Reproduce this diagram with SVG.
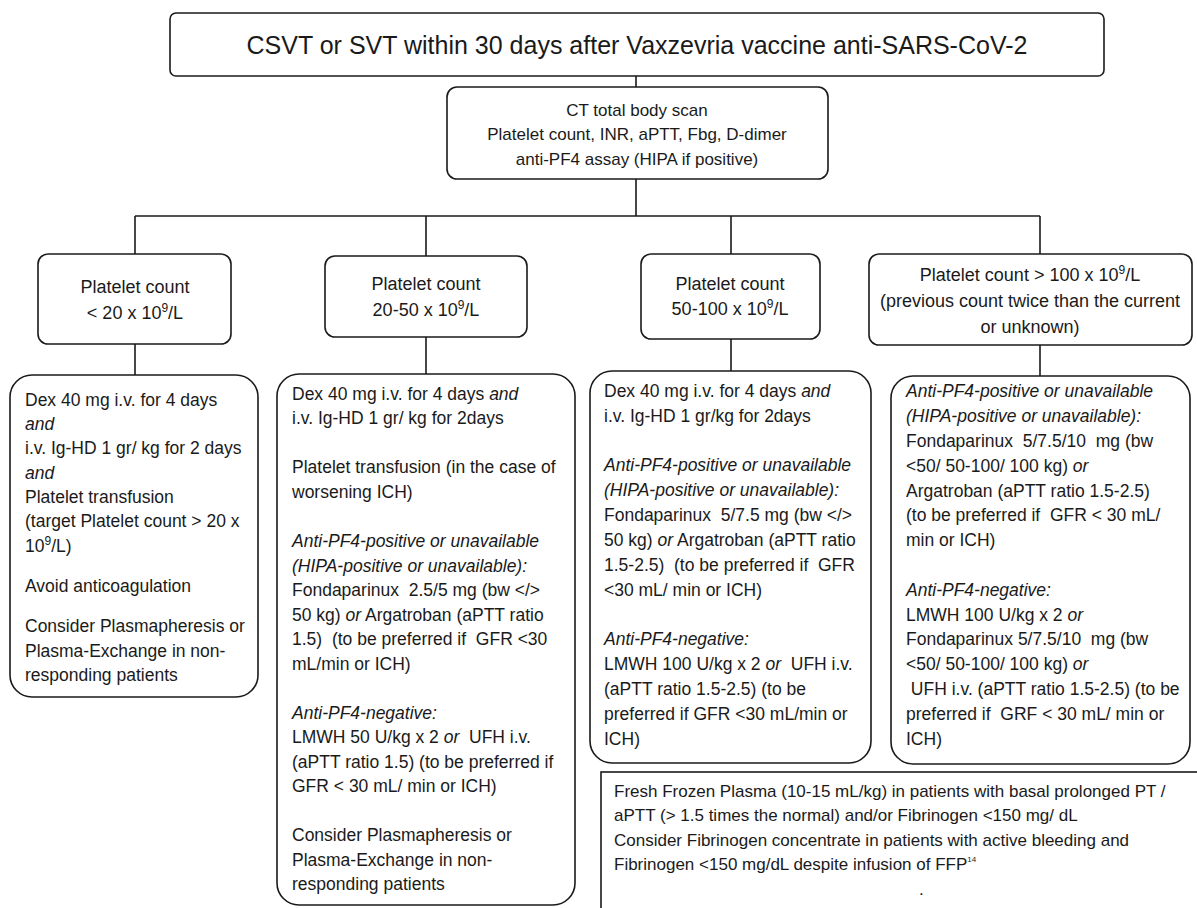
<svg xmlns="http://www.w3.org/2000/svg" width="1197" height="908" viewBox="0 0 1197 908">
<style>
text{font-family:"Liberation Sans",Arial,sans-serif;fill:#1a1a1a}
.box{fill:#fff;stroke:#1a1a1a;stroke-width:1.6}
.c{stroke:#1a1a1a;stroke-width:1.6;fill:none}
.title{font-size:25px}
.ct{font-size:17px}
.pc{font-size:18px}
.t{font-size:17.5px}
.b{font-size:17px}
.i{font-style:italic}
</style>
<rect width="1197" height="908" fill="#fff"/>
<g id="connectors">
<line class="c" x1="636" y1="76" x2="636" y2="87"/>
<line class="c" x1="636" y1="179" x2="636" y2="216"/>
<line class="c" x1="135" y1="216" x2="1040" y2="216"/>
<line class="c" x1="135" y1="216" x2="135" y2="254"/>
<line class="c" x1="426" y1="216" x2="426" y2="256"/>
<line class="c" x1="731" y1="216" x2="731" y2="254"/>
<line class="c" x1="1040" y1="216" x2="1040" y2="254"/>
<line class="c" x1="135" y1="344" x2="135" y2="375"/>
<line class="c" x1="426" y1="337" x2="426" y2="374"/>
<line class="c" x1="731" y1="339" x2="731" y2="371"/>
<line class="c" x1="1040" y1="345" x2="1040" y2="376"/>
</g>
<g id="title">
<rect class="box" x="170" y="13" width="934" height="63" rx="6"/>
<text class="title" x="637" y="54" text-anchor="middle">CSVT or SVT within 30 days after Vaxzevria vaccine anti-SARS-CoV-2</text>
</g>
<g id="ct">
<rect class="box" x="447" y="87" width="381" height="92" rx="10"/>
<text class="ct" x="637" y="116" text-anchor="middle">CT total body scan</text>
<text class="ct" x="637" y="140" text-anchor="middle">Platelet count, INR, aPTT, Fbg, D-dimer</text>
<text class="ct" x="637" y="165" text-anchor="middle">anti-PF4 assay (HIPA if positive)</text>
</g>
<g id="pc1">
<rect class="box" x="38" y="254" width="193" height="90" rx="10"/>
<text class="pc" x="135" y="293" text-anchor="middle">Platelet count</text>
<text class="pc" x="135" y="319" text-anchor="middle">&lt; 20 x 10<tspan dy="-7" font-size="12">9</tspan><tspan dy="7">/L</tspan></text>
</g>
<g id="pc2">
<rect class="box" x="325" y="256" width="202" height="81" rx="10"/>
<text class="pc" x="426" y="290" text-anchor="middle">Platelet count</text>
<text class="pc" x="426" y="316" text-anchor="middle">20-50 x 10<tspan dy="-7" font-size="12">9</tspan><tspan dy="7">/L</tspan></text>
</g>
<g id="pc3">
<rect class="box" x="641" y="254" width="179" height="85" rx="10"/>
<text class="pc" x="730" y="290" text-anchor="middle">Platelet count</text>
<text class="pc" x="730" y="315" text-anchor="middle">50-100 x 10<tspan dy="-7" font-size="12">9</tspan><tspan dy="7">/L</tspan></text>
</g>
<g id="pc4">
<rect class="box" x="869" y="254" width="323" height="91" rx="10"/>
<text class="pc" x="1030" y="281" text-anchor="middle">Platelet count &gt; 100 x 10<tspan dy="-7" font-size="12">9</tspan><tspan dy="7">/L</tspan></text>
<text class="pc" x="1030" y="307" text-anchor="middle">(previous count twice than the current</text>
<text class="pc" x="1030" y="333" text-anchor="middle">or unknown)</text>
</g>
<g id="tr1">
<rect class="box" x="10" y="375" width="248" height="322" rx="22"/>
<text class="t" x="25" y="406">Dex 40 mg i.v. for 4 days</text>
<text class="t i" x="25" y="430">and</text>
<text class="t" x="25" y="454">i.v. Ig-HD 1 gr/ kg for 2 days</text>
<text class="t i" x="25" y="479">and</text>
<text class="t" x="25" y="503">Platelet transfusion</text>
<text class="t" x="25" y="527">(target Platelet count &gt; 20 x</text>
<text class="t" x="25" y="552">10<tspan dy="-7" font-size="12">9</tspan><tspan dy="7">/L)</tspan></text>
<text class="t" x="25" y="592">Avoid anticoagulation</text>
<text class="t" x="25" y="632">Consider Plasmapheresis or</text>
<text class="t" x="25" y="657">Plasma-Exchange in non-</text>
<text class="t" x="25" y="681">responding patients</text>
</g>
<g id="tr2">
<rect class="box" x="277" y="374" width="298" height="531" rx="22"/>
<text class="t" x="292" y="400">Dex 40 mg i.v. for 4 days <tspan class="i">and</tspan></text>
<text class="t" x="292" y="424">i.v. Ig-HD 1 gr/ kg for 2days</text>
<text class="t" x="292" y="473">Platelet transfusion (in the case of</text>
<text class="t" x="292" y="498">worsening ICH)</text>
<text class="t i" x="292" y="547">Anti-PF4-positive or unavailable</text>
<text class="t i" x="292" y="572">(HIPA-positive or unavailable):</text>
<text class="t" x="292" y="596" xml:space="preserve">Fondaparinux  2.5/5 mg (bw &lt;/&gt;</text>
<text class="t" x="292" y="621">50 kg) <tspan class="i">or</tspan> Argatroban (aPTT ratio</text>
<text class="t" x="292" y="645" xml:space="preserve">1.5)  (to be preferred if  GFR &lt;30</text>
<text class="t" x="292" y="670">mL/min or ICH)</text>
<text class="t i" x="292" y="719">Anti-PF4-negative:</text>
<text class="t" x="292" y="743" xml:space="preserve">LMWH 50 U/kg x 2 <tspan class="i">or</tspan>  UFH i.v.</text>
<text class="t" x="292" y="768">(aPTT ratio 1.5) (to be preferred if</text>
<text class="t" x="292" y="792">GFR &lt; 30 mL/ min or ICH)</text>
<text class="t" x="292" y="841">Consider Plasmapheresis or</text>
<text class="t" x="292" y="866">Plasma-Exchange in non-</text>
<text class="t" x="292" y="890">responding patients</text>
</g>
<g id="tr3">
<rect class="box" x="590" y="371" width="281" height="392" rx="22"/>
<text class="t" x="604" y="397">Dex 40 mg i.v. for 4 days <tspan class="i">and</tspan></text>
<text class="t" x="604" y="422">i.v. Ig-HD 1 gr/kg for 2days</text>
<text class="t i" x="604" y="471">Anti-PF4-positive or unavailable</text>
<text class="t i" x="604" y="496">(HIPA-positive or unavailable):</text>
<text class="t" x="604" y="521" xml:space="preserve">Fondaparinux  5/7.5 mg (bw &lt;/&gt;</text>
<text class="t" x="604" y="546">50 kg) <tspan class="i">or</tspan> Argatroban (aPTT ratio</text>
<text class="t" x="604" y="571" xml:space="preserve">1.5-2.5)  (to be preferred if  GFR</text>
<text class="t" x="604" y="596">&lt;30 mL/ min or ICH)</text>
<text class="t i" x="604" y="645">Anti-PF4-negative:</text>
<text class="t" x="604" y="670" xml:space="preserve">LMWH 100 U/kg x 2 <tspan class="i">or</tspan>  UFH i.v.</text>
<text class="t" x="604" y="695">(aPTT ratio 1.5-2.5) (to be</text>
<text class="t" x="604" y="720">preferred if GFR &lt;30 mL/min or</text>
<text class="t" x="604" y="745">ICH)</text>
</g>
<g id="tr4">
<rect class="box" x="891" y="376" width="299" height="388" rx="22"/>
<text class="t i" x="906" y="397">Anti-PF4-positive or unavailable</text>
<text class="t i" x="906" y="422">(HIPA-positive or unavailable):</text>
<text class="t" x="906" y="447" xml:space="preserve">Fondaparinux  5/7.5/10  mg (bw</text>
<text class="t" x="906" y="472">&lt;50/ 50-100/ 100 kg) <tspan class="i">or</tspan></text>
<text class="t" x="906" y="497">Argatroban (aPTT ratio 1.5-2.5)</text>
<text class="t" x="906" y="521" xml:space="preserve">(to be preferred if  GFR &lt; 30 mL/</text>
<text class="t" x="906" y="546">min or ICH)</text>
<text class="t i" x="906" y="596">Anti-PF4-negative:</text>
<text class="t" x="906" y="621">LMWH 100 U/kg x 2 <tspan class="i">or</tspan></text>
<text class="t" x="906" y="645" xml:space="preserve">Fondaparinux 5/7.5/10  mg (bw</text>
<text class="t" x="906" y="670">&lt;50/ 50-100/ 100 kg) <tspan class="i">or</tspan></text>
<text class="t" x="906" y="695" xml:space="preserve"> UFH i.v. (aPTT ratio 1.5-2.5) (to be</text>
<text class="t" x="906" y="720" xml:space="preserve">preferred if  GRF &lt; 30 mL/ min or</text>
<text class="t" x="906" y="745">ICH)</text>
</g>
<g id="plasma">
<rect class="box" x="601" y="772" width="640" height="170"/>
<text class="b" x="614" y="797">Fresh Frozen Plasma (10-15 mL/kg) in patients with basal prolonged PT /</text>
<text class="b" x="614" y="821">aPTT (&gt; 1.5 times the normal) and/or Fibrinogen &lt;150 mg/ dL</text>
<text class="b" x="614" y="846">Consider Fibrinogen concentrate in patients with active bleeding and</text>
<text class="b" x="614" y="870">Fibrinogen &lt;150 mg/dL despite infusion of FFP<tspan dy="-8" font-size="8">14</tspan></text>
<text class="b" x="919" y="895">.</text>
</g>
</svg>
